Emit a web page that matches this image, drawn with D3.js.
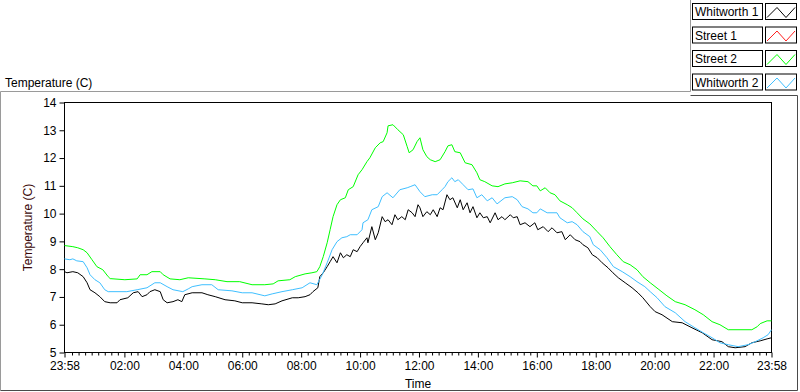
<!DOCTYPE html>
<html>
<head>
<meta charset="utf-8">
<script src="https://cdn.jsdelivr.net/npm/d3@7"></script>
<style>
body { margin: 0; background: #fff; }
text { font-family: "Liberation Sans", Arial, sans-serif; fill: #000; }
</style>
</head>
<body>
<script>
var seriesNames = ["Whitworth 1", "Street 1", "Street 2", "Whitworth 2"];
var seriesColors = ["#000000", "#ff2020", "#00ff00", "#3fbfff"];

var yTicks = [5, 6, 7, 8, 9, 10, 11, 12, 13, 14];
var xTickLabels = ["23:58", "02:00", "04:00", "06:00", "08:00", "10:00", "12:00",
                   "14:00", "16:00", "18:00", "20:00", "22:00", "23:58"];

// minutes since 23:58 and temperature (C)
var w1Min = [0,5,17,27,38,46,52,62,72,82,93,107,113,129,140,150,158,168,174,184,195,201,209,221,231,239,245,260,280,292,307,327,347,362,382,402,415,429,443,464,476,490,500,506,516,520,527,535,541,547,555,562,568,575,582,588,596,602,608,616,618,626,633,639,647,653,659,667,673,679,687,694,700,708,714,720,724,730,738,745,751,759,765,771,779,785,791,800,806,812,820,826,832,840,846,853,861,867,877,883,891,897,908,914,922,928,938,948,958,964,975,985,993,1003,1013,1020,1030,1040,1050,1056,1066,1075,1085,1095,1107,1117,1128,1142,1156,1168,1178,1193,1203,1217,1238,1258,1278,1299,1319,1339,1352,1366,1386,1400,1417,1431,1440];
var w1Temp = [7.91,7.87,7.91,7.87,7.73,7.51,7.26,7.15,7.01,6.83,6.79,6.79,6.90,6.97,7.15,7.19,7.01,7.08,7.19,7.26,7.19,6.90,6.79,6.83,6.90,6.83,7.08,7.15,7.15,7.08,7.01,6.90,6.86,6.79,6.79,6.75,6.72,6.75,6.86,6.97,6.97,7.01,7.08,7.19,7.33,7.73,7.87,8.09,8.27,8.45,8.23,8.59,8.41,8.52,8.45,8.70,8.63,8.81,8.95,9.13,8.95,9.53,9.06,9.31,9.89,9.71,9.78,9.60,9.96,9.78,9.89,9.78,10.14,10.03,9.89,10.32,10.21,9.89,10.07,9.96,10.14,9.89,10.21,10.14,10.68,10.50,10.57,10.21,10.50,10.14,10.39,10.03,10.25,9.85,10.03,9.85,9.89,9.67,10.03,9.78,9.89,9.78,9.96,9.85,9.89,9.60,9.67,9.53,9.67,9.42,9.53,9.35,9.49,9.31,9.35,9.06,9.24,9.06,8.99,8.88,8.77,8.52,8.41,8.23,8.05,7.87,7.69,7.51,7.33,7.15,6.97,6.65,6.47,6.36,6.11,6.07,5.89,5.71,5.46,5.39,5.21,5.17,5.21,5.35,5.42,5.49,5.53];

var s1Min = [];
var s1Temp = [];

var s2Min = [0,17,27,38,46,56,66,78,89,93,123,148,154,168,178,195,201,215,235,252,286,307,331,357,382,408,425,435,459,470,490,504,514,520,527,535,541,547,555,562,572,578,588,598,606,616,622,633,643,649,657,659,669,679,690,698,702,710,718,724,730,738,745,755,765,775,781,789,795,806,816,830,840,846,856,871,883,897,912,928,944,954,962,969,979,989,999,1009,1024,1034,1044,1056,1070,1085,1097,1111,1125,1138,1152,1166,1178,1193,1209,1227,1244,1264,1284,1301,1319,1335,1352,1400,1411,1417,1431,1440];
var s2Temp = [8.85,8.81,8.77,8.70,8.59,8.34,8.09,7.98,7.73,7.66,7.62,7.65,7.80,7.80,7.91,7.91,7.80,7.65,7.62,7.69,7.65,7.62,7.55,7.55,7.44,7.44,7.47,7.58,7.62,7.73,7.83,7.87,7.91,8.09,8.45,8.95,9.42,9.89,10.32,10.50,10.57,10.86,10.97,11.40,11.58,11.87,12.01,12.37,12.55,12.59,12.91,13.16,13.20,13.02,12.84,12.41,12.19,12.30,12.59,12.73,12.30,12.05,11.94,11.87,11.94,12.23,12.44,12.48,12.23,12.19,11.83,11.76,11.47,11.22,11.15,11.00,10.97,11.07,11.11,11.18,11.15,11.00,11.00,10.82,10.93,10.75,10.68,10.46,10.32,10.21,10.03,9.81,9.63,9.35,9.13,8.81,8.52,8.27,8.16,7.98,7.73,7.51,7.29,7.04,6.83,6.72,6.54,6.36,6.11,6.00,5.82,5.82,5.93,6.04,6.14,6.14];

var w2Min = [0,11,17,25,38,46,52,62,72,82,89,127,148,168,184,195,209,221,241,252,260,280,300,313,341,362,382,408,423,443,464,484,500,514,525,535,545,555,565,575,582,596,606,608,618,626,639,647,657,669,683,698,704,714,724,734,749,759,769,775,781,789,795,802,812,822,832,840,850,861,871,881,897,912,922,932,944,954,962,969,983,1003,1009,1024,1034,1044,1056,1070,1077,1091,1105,1118,1136,1152,1166,1182,1193,1207,1223,1244,1264,1284,1301,1319,1335,1352,1372,1392,1407,1423,1433,1440];
var w2Temp = [8.37,8.34,8.37,8.30,8.27,8.05,7.80,7.62,7.51,7.26,7.19,7.19,7.26,7.33,7.51,7.51,7.37,7.26,7.19,7.29,7.37,7.44,7.44,7.26,7.22,7.15,7.15,7.04,7.11,7.19,7.26,7.33,7.51,7.44,7.80,8.23,8.70,8.99,9.13,9.17,9.24,9.24,9.42,9.67,9.78,10.14,10.25,10.61,10.75,10.57,10.86,10.93,10.97,11.04,10.79,10.61,10.68,10.68,10.86,10.97,11.15,11.29,11.15,11.22,11.04,10.86,10.89,10.57,10.68,10.46,10.57,10.35,10.57,10.61,10.50,10.25,10.17,10.03,10.03,10.17,10.03,10.03,9.85,9.67,9.71,9.60,9.35,9.17,8.88,8.70,8.41,8.09,7.91,7.73,7.55,7.37,7.19,6.97,6.65,6.43,6.11,5.89,5.71,5.53,5.35,5.28,5.21,5.28,5.39,5.53,5.64,5.82];

var width = 800,
    height = 392;

var start = new Date(2000, 0, 1, 23, 58),
    end = new Date(2000, 0, 2, 23, 58);

var x = d3.scaleTime().domain([start, end]).range([64.5, 771.5]);
var y = d3.scaleLinear().domain([5, 14]).range([352.5, 102.5]);

var svg = d3.select("body").append("svg")
    .attr("width", width)
    .attr("height", height);

// outer frame
svg.append("path")
    .attr("d", "M0.5,390.5 V91.5 H690.5 V0")
    .attr("fill", "none").attr("stroke", "#9a9a9a");
svg.append("path")
    .attr("d", "M690.5,95.5 H797.5 V390.5 H0.5")
    .attr("fill", "none").attr("stroke", "#4a4a4a");

svg.append("text")
    .attr("x", 5).attr("y", 87)
    .style("font-size", "12px")
    .text("Temperature (C)");

// legend
var legend = svg.selectAll(".legend")
    .data(seriesNames)
  .enter().append("g")
    .attr("class", "legend")
    .attr("transform", function(d, i){ return "translate(0," + (3.5 + i * 23.5) + ")"; });

legend.append("rect")
    .attr("x", 692.5).attr("y", 0)
    .attr("width", 70).attr("height", 16)
    .attr("fill", "#fff").attr("stroke", "#000");

legend.append("text")
    .attr("x", 695).attr("y", 12.5)
    .style("font-size", "12px")
    .text(function(d){ return d; });

legend.append("rect")
    .attr("x", 765.5).attr("y", 0)
    .attr("width", 31).attr("height", 16)
    .attr("fill", "#fff").attr("stroke", "#000");

legend.append("path")
    .attr("d", "M767,14 L777,4 L786,14 L795,4")
    .attr("fill", "none")
    .attr("stroke", function(d, i){ return seriesColors[i]; });

// axes
var tickDates = xTickLabels.map(function(s, i){
  var p = s.split(":");
  var day = i === 0 ? 1 : 2;
  return new Date(2000, 0, day, +p[0], +p[1]);
});

var minorDates = d3.range(1, 108).filter(function(k){ return k % 9 !== 0; })
  .map(function(k){ return d3.timeSecond.offset(new Date(2000, 0, 2, 0, 0), k * 800); });

var gx = svg.append("g")
    .attr("transform", "translate(0,352.5)");

gx.call(d3.axisBottom(x).tickValues(minorDates).tickSize(3).tickFormat(""))
  .call(function(g){ g.select(".domain").remove(); });

var gx2 = svg.append("g")
    .attr("transform", "translate(0,352.5)")
    .call(d3.axisBottom(x).tickValues(tickDates).tickSize(5).tickPadding(4)
      .tickFormat(function(d, i){ return xTickLabels[i]; }));
gx2.select(".domain").remove();
gx2.selectAll("text").style("font-size", "12px").attr("fill", "#000");

var gy = svg.append("g")
    .attr("transform", "translate(64.5,0)")
    .call(d3.axisLeft(y).tickValues(yTicks).tickSize(5).tickPadding(3));
gy.select(".domain").remove();
gy.selectAll("text").style("font-size", "12px").attr("fill", "#000");

svg.selectAll(".tick line").attr("stroke", "#000");

// plot frame
svg.append("rect")
    .attr("x", x(start)).attr("y", y(14))
    .attr("width", x(end) - x(start)).attr("height", y(5) - y(14))
    .attr("fill", "none").attr("stroke", "#000");

svg.append("text")
    .attr("transform", "translate(32," + ((y(5) + y(14)) / 2) + ") rotate(-90)")
    .attr("text-anchor", "middle")
    .style("font-size", "12px")
    .style("fill", "#3a0808")
    .text("Temperature (C)");

svg.append("text")
    .attr("x", (x(start) + x(end)) / 2).attr("y", 388)
    .attr("text-anchor", "middle")
    .style("font-size", "12px")
    .text("Time");

// plots
var series = [
  {mins: w1Min, temps: w1Temp, color: seriesColors[0]},
  {mins: s1Min, temps: s1Temp, color: seriesColors[1]},
  {mins: s2Min, temps: s2Temp, color: seriesColors[2]},
  {mins: w2Min, temps: w2Temp, color: seriesColors[3]}
];

var line = d3.line()
    .x(function(d){ return x(d3.timeMinute.offset(start, d[0])); })
    .y(function(d){ return y(d[1]); });

svg.append("g").selectAll("path")
    .data(series)
  .enter().append("path")
    .attr("fill", "none")
    .attr("stroke", function(d){ return d.color; })
    .attr("stroke-width", 1)
    .attr("d", function(d){
      if (!d.mins.length) return null;
      return line(d.mins.map(function(m, i){ return [m, d.temps[i]]; }));
    });
</script>
</body>
</html>
